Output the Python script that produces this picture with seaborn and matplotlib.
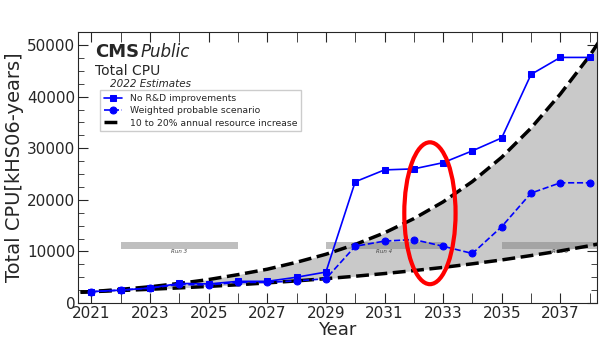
import numpy as np
import pandas as pd
import matplotlib
matplotlib.use("Agg")
import matplotlib.pyplot as plt
import seaborn as sns
from matplotlib.patches import Ellipse
from matplotlib.ticker import MultipleLocator, FixedLocator

# data
years = [2021, 2022, 2023, 2024, 2025, 2026, 2027, 2028, 2029, 2030,
         2031, 2032, 2033, 2034, 2035, 2036, 2037, 2038]
no_rd = [2200, 2500, 2900, 3800, 3700, 4200, 4200, 5000, 6000, 23500,
         25800, 26000, 27200, 29500, 32000, 44300, 47600, 47600]
weighted = [2200, 2500, 2900, 3600, 3500, 4000, 4000, 4300, 4700, 11000,
            12000, 12300, 11000, 9600, 14800, 21300, 23300, 23300]

# flat budget band (10% and 20% yearly growth), read per year
band_years = [2020, 2021, 2022, 2023, 2024, 2025, 2026, 2027, 2028, 2029,
              2030, 2031, 2032, 2033, 2034, 2035, 2036, 2037, 2038, 2039]
band_low = [2000, 2200, 2420, 2660, 2930, 3220, 3540, 3900, 4290, 4720,
            5190, 5710, 6280, 6900, 7600, 8350, 9200, 10100, 11100, 12250]
band_high = [1850, 2200, 2650, 3150, 3800, 4550, 5500, 6550, 7900, 9450,
             11350, 13600, 16350, 19600, 23550, 28250, 33900, 40500, 47900, 56500]

runs = ["Run 3", "Run 4", "Run 5"]
run_start = [2022, 2029, 2035]
run_end = [2026, 2033, 2039]

df = pd.DataFrame({"year": years, "no_rd": no_rd, "weighted": weighted})
band = pd.DataFrame({"year": band_years, "low": band_low, "high": band_high})

sns.set_style("ticks")
plt.rcParams["font.family"] = ["DejaVu Sans"]

fig = plt.figure(figsize=(6.02, 3.42), dpi=100)
ax = fig.add_axes([0.1296, 0.114, 0.862, 0.792])

ax.fill_between(band["year"], band["low"], band["high"], color="#c9c9c9", lw=0, zorder=1)

for name, s, e in zip(runs, run_start, run_end):
    ax.fill_between([s, e], 10400, 11800, color="grey", alpha=0.5, lw=0, zorder=2)
    ax.text((s + e) / 2, 9900, name, fontsize=4, style="italic", color="#444444",
            ha="center", va="center", zorder=2)

sns.lineplot(data=band, x="year", y="low", color="black", lw=2.5, linestyle="--",
             ax=ax, zorder=3)
sns.lineplot(data=band, x="year", y="high", color="black", lw=2.5, linestyle="--",
             ax=ax, zorder=3, label="10 to 20% annual resource increase")
sns.lineplot(data=df, x="year", y="no_rd", color="blue", lw=1.2, marker="s",
             markersize=5, markeredgecolor="blue", ax=ax, zorder=4,
             label="No R&D improvements")
sns.lineplot(data=df, x="year", y="weighted", color="blue", lw=1.2, linestyle="--",
             marker="o", markersize=5, markeredgecolor="blue", ax=ax, zorder=4,
             label="Weighted probable scenario")

ax.add_patch(Ellipse((2032.55, 17400), 1.75, 27500, fill=False, edgecolor="red",
                     lw=3, zorder=5))

ax.set_xlim(2020.54, 2038.25)
ax.set_ylim(0, 52500)
ax.xaxis.set_major_locator(FixedLocator(list(range(2021, 2039, 2))))
ax.xaxis.set_minor_locator(MultipleLocator(1))
ax.yaxis.set_major_locator(MultipleLocator(10000))
ax.yaxis.set_minor_locator(MultipleLocator(2500))
ax.tick_params(which="both", direction="in", top=True, right=True, labelsize=11,
               pad=2)
ax.tick_params(which="major", length=7)
ax.tick_params(which="minor", length=4)
ax.tick_params(axis="x", which="minor", length=7)
ax.set_xlabel("Year", fontsize=13, labelpad=0)
ax.set_ylabel("Total CPU[kHS06-years]", fontsize=14, labelpad=2)

ax.text(0.033, 0.926, "CMS", transform=ax.transAxes, fontsize=13, weight="bold",
        va="center")
ax.text(0.12, 0.926, "Public", transform=ax.transAxes, fontsize=12, style="italic",
        va="center")
ax.text(0.033, 0.858, "Total CPU", transform=ax.transAxes, fontsize=10, va="center")
ax.text(0.062, 0.81, "2022 Estimates", transform=ax.transAxes, fontsize=7.5,
        style="italic", va="center")

h, l = ax.get_legend_handles_labels()
order = [l.index("No R&D improvements"), l.index("Weighted probable scenario"),
         l.index("10 to 20% annual resource increase")]
ax.legend([h[i] for i in order], [l[i] for i in order], loc="upper left",
          bbox_to_anchor=(0.042, 0.785), borderaxespad=0, fontsize=6.7,
          fancybox=False, handlelength=2.0, labelspacing=0.35, framealpha=1)

fig.savefig("out.png", dpi=100)
